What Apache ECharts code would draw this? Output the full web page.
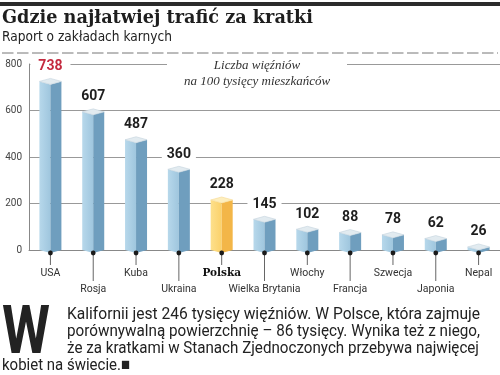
<!DOCTYPE html>
<html>
<head>
<meta charset="utf-8">
<script src="https://cdn.jsdelivr.net/npm/echarts@6/dist/echarts.min.js"></script>
<style>
  html, body { margin: 0; padding: 0; background: #fff; }
  #chart { width: 500px; height: 375px; }
</style>
</head>
<body>
<div id="chart"></div>
<script>
// ---- data ----
const categories = ['USA', 'Rosja', 'Kuba', 'Ukraina', 'Polska', 'Wielka Brytania', 'Włochy', 'Francja', 'Szwecja', 'Japonia', 'Nepal'];
const values = [738, 607, 487, 360, 228, 145, 102, 88, 78, 62, 26];
const highlightCountry = 'Polska';
const yMin = 0, yMax = 800, yStep = 200;

const titleText = 'Gdzie najłatwiej trafić za kratki';
const subtitleText = 'Raport o zakładach karnych';
const noteLines = ['Liczba więźniów', 'na 100 tysięcy mieszkańców'];
const dropCap = 'W';
const bodyLines = [
  'Kalifornii jest 246 tysięcy więźniów. W Polsce, która zajmuje',
  'porównywalną powierzchnię – 86 tysięcy. Wynika też z niego,',
  'że za kratkami w Stanach Zjednoczonych przebywa najwięcej',
  'kobiet na świecie.■'
];

// ---- helpers ----
const measureCtx = document.createElement('canvas').getContext('2d');
function fitScale(text, font, target) {
  measureCtx.font = font;
  const w = measureCtx.measureText(text).width;
  return target / w;
}

const chart = echarts.init(document.getElementById('chart'), null, { renderer: 'canvas' });

function renderItem(params, api) {
  const idx = api.value(0);
  const v = api.value(1);
  const top = api.coord([idx, v]);
  const base = api.coord([idx, 0]);
  const cx = top[0], yv = top[1], y0 = base[1];
  const hw = 11;
  const hl = categories[idx] === highlightCountry;
  const cLeft = hl
    ? new echarts.graphic.LinearGradient(0, 0, 1, 0, [{ offset: 0, color: '#fde08c' }, { offset: 1, color: '#fbd16a' }])
    : new echarts.graphic.LinearGradient(0, 0, 1, 0, [{ offset: 0, color: '#b7d8eb' }, { offset: 1, color: '#9fc6de' }]);
  const cRight = hl ? '#f3b648' : '#6f9ebe';
  const cTop = hl ? '#fdeebe' : '#e2ebf0';
  const lineEnd = y0 + (idx % 2 ? 31 : 15);
  const children = [
    { type: 'line', shape: { x1: cx, y1: y0 + 3, x2: cx, y2: lineEnd }, style: { stroke: '#666', lineWidth: 1 } },
    { type: 'polygon', shape: { points: [[cx - hw, yv + 3], [cx, yv + 6], [cx, y0 + 3], [cx - hw, y0]] }, style: { fill: cLeft } },
    { type: 'polygon', shape: { points: [[cx, yv + 6], [cx + hw, yv + 3], [cx + hw, y0], [cx, y0 + 3]] }, style: { fill: cRight } },
    { type: 'polygon', shape: { points: [[cx, yv], [cx + hw, yv + 3], [cx, yv + 6], [cx - hw, yv + 3]] }, style: { fill: cTop, stroke: hl ? '#f6d890' : '#c5d4de', lineWidth: 0.6 } },
    { type: 'circle', shape: { cx: cx, cy: y0 + 3, r: 2.4 }, style: { fill: '#1a1a1a' } },
    {
      type: 'text',
      style: {
        x: cx, y: yv - 12, text: String(v),
        font: 'bold 14px Roboto', fill: idx === 0 ? '#c42a3f' : '#1e1e1e',
        align: 'center', verticalAlign: 'middle',
        backgroundColor: '#fff', padding: idx === 0 ? [1, 8] : [1, 5]
      }
    }
  ];
  return { type: 'group', children: children };
}

const titleFont = 'bold 19px "DejaVu Serif"';
const subFont = '14px "Liberation Sans Narrow", "DejaVu Sans Condensed", sans-serif';
const bodyFont = '17px Roboto';
const capFont = 'bold 67px Roboto';

const graphics = [
  { type: 'rect', shape: { x: 0, y: 2, width: 500, height: 4 }, style: { fill: '#2b2b2b' } },
  { type: 'text', x: 2, y: 18, scaleX: fitScale(titleText, titleFont, 311), style: { x: 0, y: 0, text: titleText, font: titleFont, fill: '#1e1e1e', verticalAlign: 'middle' } },
  { type: 'text', x: 2, y: 37, scaleX: fitScale(subtitleText, subFont, 170), style: { x: 0, y: 0, text: subtitleText, font: subFont, fill: '#222', verticalAlign: 'middle' } },
  { type: 'line', shape: { x1: 2, y1: 53, x2: 498, y2: 53 }, style: { stroke: '#777', lineWidth: 1, lineDash: [11.5, 3.5] } },
  { type: 'rect', z: 100, shape: { x: 167, y: 58, width: 180, height: 12 }, style: { fill: '#fff' } },
  { type: 'text', z: 101, x: 257, y: 66, style: { x: 0, y: 0, text: noteLines[0], font: 'italic 13px "Liberation Serif"', fill: '#333', align: 'center', verticalAlign: 'middle' } },
  { type: 'text', z: 101, x: 257, y: 82, style: { x: 0, y: 0, text: noteLines[1], font: 'italic 13px "Liberation Serif"', fill: '#333', align: 'center', verticalAlign: 'middle' } },
  { type: 'text', x: 2, y: 336, scaleX: fitScale(dropCap, capFont, 48), style: { x: 0, y: 0, text: dropCap, font: capFont, fill: '#222', verticalAlign: 'middle' } },
  { type: 'text', x: 67, y: 315, scaleX: fitScale(bodyLines[0], bodyFont, 413), style: { x: 0, y: 0, text: bodyLines[0], font: bodyFont, fill: '#222', verticalAlign: 'middle' } },
  { type: 'text', x: 67, y: 332, scaleX: fitScale(bodyLines[1], bodyFont, 413), style: { x: 0, y: 0, text: bodyLines[1], font: bodyFont, fill: '#222', verticalAlign: 'middle' } },
  { type: 'text', x: 67, y: 349, scaleX: fitScale(bodyLines[2], bodyFont, 412), style: { x: 0, y: 0, text: bodyLines[2], font: bodyFont, fill: '#222', verticalAlign: 'middle' } },
  { type: 'text', x: 2, y: 366, scaleX: fitScale(bodyLines[3], bodyFont, 128), style: { x: 0, y: 0, text: bodyLines[3], font: bodyFont, fill: '#222', verticalAlign: 'middle' } }
];

const option = {
  animation: false,
  backgroundColor: '#fff',
  grid: { left: 29, top: 64, width: 474, height: 186, containLabel: false },
  xAxis: {
    type: 'category',
    data: categories,
    axisLine: { show: true, lineStyle: { color: '#888', width: 1 } },
    axisTick: { show: false },
    axisLabel: {
      interval: 0,
      margin: 16,
      lineHeight: 16,
      formatter: function (val, i) {
        const tag = val === highlightCountry ? 'p' : 'a';
        const txt = '{' + tag + '|' + val + '}';
        return i % 2 ? '{gap| }\n' + txt : txt;
      },
      rich: {
        gap: { fontSize: 10, lineHeight: 16 },
        a: { fontFamily: 'Roboto', fontSize: 10.5, color: '#333', lineHeight: 14 },
        p: { fontFamily: '"DejaVu Serif"', fontWeight: 'bold', fontSize: 10.5, color: '#111', lineHeight: 14 }
      }
    },
    splitLine: { show: false }
  },
  yAxis: {
    type: 'value',
    min: yMin, max: yMax, interval: yStep,
    axisLine: { show: true, lineStyle: { color: '#888', width: 1 } },
    axisTick: { show: false },
    axisLabel: { fontFamily: 'Roboto', fontSize: 10, color: '#444', margin: 7 },
    splitLine: { show: true, lineStyle: { color: '#999', width: 1 } }
  },
  series: [{
    type: 'custom',
    clip: false,
    renderItem: renderItem,
    data: values.map((v, i) => [i, v])
  }],
  graphic: graphics
};

chart.setOption(option);
</script>
</body>
</html>
